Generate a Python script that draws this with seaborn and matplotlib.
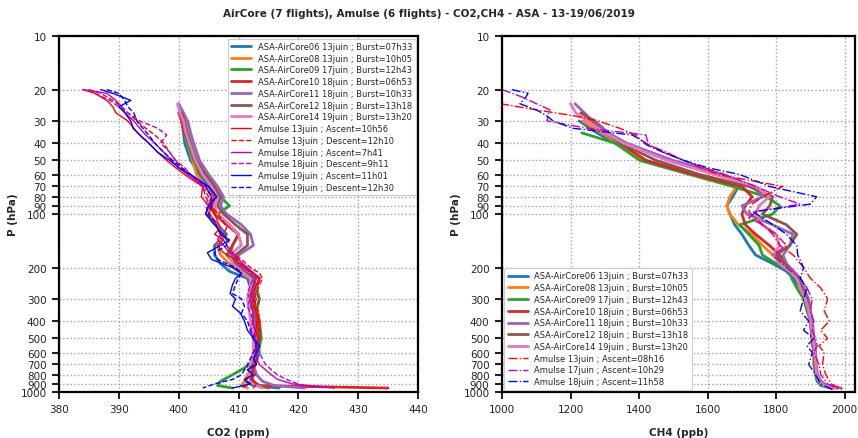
import numpy as np
import pandas as pd
import seaborn as sns
import matplotlib.pyplot as plt
from matplotlib.ticker import FixedLocator, NullLocator, FixedFormatter

sns.set_theme(context="paper", style="ticks", color_codes=False)
plt.rcParams['font.family'] = ['DejaVu Sans']

nan = np.nan

# pressure levels (hPa)
p_aircore = [24, 27, 30, 35, 40, 50, 60, 70, 80, 90, 100, 115, 130, 150, 170, 190, 210,
             230, 260, 300, 350, 400, 500, 600, 700, 800, 870, 920, 950]
p_amulse = [20, 21, 23, 25, 27, 30, 33, 36, 40, 45, 50, 55, 60, 65, 70, 80, 90, 100, 110,
            120, 130, 140, 150, 165, 180, 200, 215, 230, 250, 280, 300, 330, 360, 400, 450,
            500, 550, 600, 650, 700, 750, 800, 850, 900, 950]
p_amulse_ch4 = [20, 21, 22, 24, 26, 28, 30, 33, 36, 38, 41, 45, 50, 55, 60, 70, 80, 88, 97,
                105, 115, 130, 150, 170, 200, 230, 260, 300, 350, 400, 450, 500, 550, 600,
                700, 800, 900, 970]

aircore_labels = ["ASA-AirCore06 13juin ; Burst=07h33", "ASA-AirCore08 13juin ; Burst=10h05",
                  "ASA-AirCore09 17juin ; Burst=12h43", "ASA-AirCore10 18juin ; Burst=06h53",
                  "ASA-AirCore11 18juin ; Burst=10h33", "ASA-AirCore12 18juin ; Burst=13h18",
                  "ASA-AirCore14 19juin ; Burst=13h20"]

# CO2 (ppm) AirCore
co2_ac06 = [nan, nan, 400.5, 400.8, 401.0, 402.0, 403.5, 405.0, 406.0, 405.5, 405.0, 406.5, 408.0, 406.0, 406.0,
            407.0, 408.5, 411.5, 412.0, 412.0, 412.5, 412.5, 413.0, 413.5, 412.8, 412.0, 411.0, 412.5, 416.8]
co2_ac08 = [nan, 400.3, 400.6, 401.0, 401.5, 402.3, 403.0, 404.5, 405.5, 405.0, 405.2, 406.3, 407.5, 406.5, 407.0,
            408.5, 410.0, 412.0, 412.3, 412.0, 412.5, 413.0, 413.2, 413.0, 412.5, 411.5, 411.0, 410.5, 411.5]
co2_ac09 = [nan, nan, nan, 401.0, 401.5, 402.5, 403.8, 405.5, 407.0, 408.5, 406.5, 408.5, 410.0, 409.0, 408.0,
            409.5, 411.0, 412.5, 413.0, 413.5, 413.0, 413.5, 413.8, 413.3, 412.0, 409.0, 407.0, 406.5, 409.0]
co2_ac10 = [nan, 400.0, 400.5, 401.0, 401.8, 402.8, 404.0, 405.5, 406.0, 405.5, 406.0, 408.0, 410.0, 409.0, 408.5,
            410.0, 412.0, 413.5, 413.0, 412.5, 413.0, 413.5, 413.5, 413.0, 412.5, 412.0, 412.5, 413.0, 435.0]
co2_ac11 = [400.0, 400.8, 401.5, 402.0, 402.5, 403.5, 405.0, 406.5, 407.5, 407.0, 408.0, 410.5, 412.0, 412.5, 410.0,
            409.5, 411.0, 412.5, 413.0, 412.0, 412.5, 412.8, 413.0, 413.2, 412.5, 413.0, 414.0, 416.0, 421.0]
co2_ac12 = [nan, 400.5, 401.0, 401.5, 402.0, 403.0, 404.5, 406.0, 407.0, 406.5, 407.5, 409.5, 411.5, 411.5, 409.5,
            409.5, 411.0, 412.8, 412.5, 412.0, 412.5, 413.0, 413.3, 413.0, 412.3, 412.0, 412.5, 413.5, 415.0]
co2_ac14 = [399.8, 400.2, 400.8, 401.2, 401.8, 402.8, 404.0, 405.5, 406.5, 406.0, 406.5, 408.5, 410.0, 410.5, 408.5,
            409.0, 410.5, 412.0, 412.0, 411.5, 411.8, 412.0, 412.5, 412.5, 412.0, 411.8, 412.0, 413.0, 414.0]

# CO2 (ppm) Amulse
co2_m13a = [384.0, 386.0, 388.0, 389.0, 389.5, 391.5, 392.5, 393.5, 395.0, 396.5, 398.0, 399.5, 401.0, 402.5, 404.0,
            403.8, 405.0, 406.0, 406.5, 407.0, 406.0, 407.5, 406.5, 407.5, 409.5, 411.0, 412.5, 413.5, 413.0, 412.5,
            413.0, 412.5, 413.0, 413.3, 412.8, 413.5, 412.8, 413.0, 412.5, 413.0, 412.3, 412.8, 412.0, 413.0, 412.5]
co2_m13d = [385.0, 387.0, 389.0, 390.5, 391.5, 393.0, 394.5, 396.0, 397.5, 398.5, 399.5, 401.0, 402.0, 403.0, 404.0,
            404.5, 405.5, 406.5, 407.5, 408.0, 407.5, 408.5, 408.0, 409.0, 410.5, 412.0, 413.5, 414.0, 413.5, 413.0,
            413.5, 413.0, 413.5, 413.0, 413.5, 412.5, 413.5, 412.8, 413.2, 412.5, 411.5, 412.5, 411.0, 412.0, 410.5]
co2_m18a = [384.0, 388.0, 389.5, 390.5, 391.0, 392.5, 393.5, 394.5, 396.0, 397.5, 398.8, 400.0, 401.5, 403.0, 404.5,
            405.5, 405.0, 404.5, 406.0, 406.5, 407.0, 406.5, 407.5, 408.5, 410.0, 411.5, 412.5, 413.0, 412.5, 412.0,
            412.5, 412.0, 412.5, 412.3, 412.8, 412.5, 413.0, 413.2, 413.0, 413.5, 414.5, 415.5, 416.5, 419.0, 426.0]
co2_m18d = [nan, 386.0, 388.5, 390.0, 391.5, 393.5, 396.5, 398.0, 397.0, 398.5, 399.5, 400.5, 401.5, 403.0, 404.0,
            405.0, 404.5, 405.0, 405.5, 406.5, 407.0, 407.5, 408.0, 409.0, 410.0, 411.0, 412.0, 412.5, 412.0, 411.5,
            412.0, 411.5, 412.0, 412.5, 412.0, 412.8, 413.0, 413.5, 414.0, 414.5, 415.5, 416.5, 418.0, 420.0, 421.5]
co2_m19a = [387.0, 389.0, 392.0, 390.0, 391.0, 392.0, 392.4, 393.5, 395.0, 396.5, 398.5, 400.0, 402.0, 403.5, 405.0,
            406.4, 405.0, 404.5, 405.5, 406.5, 407.0, 408.5, 407.0, 404.8, 405.5, 409.0, 410.5, 409.5, 409.0, 408.6,
            409.5, 409.0, 410.3, 411.0, 411.5, 412.5, 413.5, 413.0, 412.5, 413.0, 411.5, 412.5, 411.0, 412.0, 409.0]
co2_m19d = [388.0, 390.0, 391.0, 391.5, 392.5, 393.0, 394.0, 395.0, 396.0, 397.5, 399.0, 400.5, 402.0, 403.5, 404.5,
            405.5, 405.5, 405.0, 406.0, 406.5, 407.5, 408.0, 408.0, 406.0, 406.5, 409.5, 410.5, 410.0, 409.5, 409.0,
            410.5, 411.0, 410.5, 411.5, 412.0, 412.5, 413.0, 412.5, 412.0, 411.5, 411.0, 410.5, 409.0, 406.0, 404.0]

# CH4 (ppb) AirCore
ch4_ac06 = [nan, nan, 1225, 1277, 1330, 1420, 1560, 1690, 1673, 1656, 1665, 1679, 1700, 1720, 1740, 1790, 1830,
            1850, 1870, 1885, 1895, 1900, 1905, 1910, 1912, 1915, 1920, 1930, 1960]
ch4_ac08 = [nan, nan, 1235, 1290, 1340, 1411, 1555, 1685, 1665, 1656, 1665, 1690, 1729, 1760, 1790, 1820, 1850,
            1870, 1880, 1890, 1900, 1905, 1910, 1915, 1918, 1920, 1925, 1940, 1975]
ch4_ac09 = [nan, nan, nan, 1233, 1330, 1402, 1548, 1673, 1772, 1811, 1790, 1694, 1720, 1750, 1760, 1800, 1840,
            1845, 1860, 1880, 1890, 1900, 1905, 1910, 1910, 1915, 1920, 1935, 1965]
ch4_ac10 = [nan, 1230, 1270, 1310, 1345, 1420, 1560, 1700, 1730, 1710, 1700, 1710, 1740, 1780, 1810, 1830, 1850,
            1870, 1880, 1890, 1895, 1900, 1905, 1910, 1915, 1920, 1930, 1945, 1980]
ch4_ac11 = [1213, 1240, 1265, 1310, 1364, 1499, 1645, 1732, 1761, 1700, 1714, 1790, 1849, 1840, 1820, 1830, 1850,
            1870, 1880, 1895, 1900, 1905, 1910, 1915, 1915, 1920, 1930, 1950, 1990]
ch4_ac12 = [nan, 1235, 1260, 1300, 1345, 1450, 1577, 1720, 1790, 1781, 1760, 1830, 1860, 1840, 1800, 1825, 1845,
            1860, 1875, 1890, 1895, 1900, 1905, 1910, 1912, 1918, 1925, 1940, 1970]
ch4_ac14 = [1200, 1215, 1250, 1300, 1355, 1481, 1620, 1740, 1780, 1750, 1740, 1760, 1800, 1810, 1790, 1810, 1840,
            1860, 1870, 1885, 1895, 1900, 1908, 1912, 1915, 1918, 1925, 1940, 1975]

# CH4 (ppb) Amulse
ch4_m13 = [nan, nan, nan, 995, 1100, 1207, 1280, 1344, 1390, 1402, 1430, 1480, 1530, 1580, 1630, 1819, 1760, 1730,
           1720, 1740, 1760, 1790, 1810, 1850, 1880, 1900, 1930, 1950, 1940, 1955, 1930, 1950, 1925, 1940, 1935,
           1945, 1960, 1995]
ch4_m17 = [1000, 1030, 1058, 1100, 1140, 1135, 1131, 1250, 1420, 1423, 1430, 1470, 1530, 1590, 1650, 1740, 1810,
           1869, 1743, 1720, 1760, 1800, 1830, 1790, 1830, 1870, 1890, 1905, 1900, 1910, 1905, 1915, 1920, 1910,
           1925, 1930, 1950, 1985]
ch4_m18 = [1029, 1076, 1070, 1052, 1100, 1130, 1149, 1207, 1380, 1402, 1423, 1470, 1530, 1600, 1694, 1780, 1918,
           1900, 1732, 1760, 1790, 1830, 1860, 1863, 1880, 1870, 1890, 1880, 1870, 1895, 1880, 1910, 1890, 1905,
           1895, 1915, 1930, 1965]

co2_aircore = [co2_ac06, co2_ac08, co2_ac09, co2_ac10, co2_ac11, co2_ac12, co2_ac14]
ch4_aircore = [ch4_ac06, ch4_ac08, ch4_ac09, ch4_ac10, ch4_ac11, ch4_ac12, ch4_ac14]
ac_colors = sns.color_palette("tab10", 7)

RED, MAG, BLUE = "#ff0000", "#bf00bf", "#0000ff"
co2_amulse = [
    (co2_m13a, RED, "-", "Amulse 13juin ; Ascent=10h56"),
    (co2_m13d, RED, "--", "Amulse 13juin ; Descent=12h10"),
    (co2_m18a, MAG, "-", "Amulse 18juin ; Ascent=7h41"),
    (co2_m18d, MAG, "--", "Amulse 18juin ; Descent=9h11"),
    (co2_m19a, BLUE, "-", "Amulse 19juin ; Ascent=11h01"),
    (co2_m19d, BLUE, "--", "Amulse 19juin ; Descent=12h30"),
]
ch4_amulse = [
    (ch4_m13, RED, "-.", "Amulse 13juin ; Ascent=08h16"),
    (ch4_m17, MAG, "-.", "Amulse 17juin ; Ascent=10h29"),
    (ch4_m18, BLUE, "-.", "Amulse 18juin ; Ascent=11h58"),
]


def profile(ax, vals, pres, **kw):
    d = pd.DataFrame({"v": vals, "p": pres}).dropna()
    sns.lineplot(data=d, x="v", y="p", sort=False, estimator=None, ax=ax, **kw)


fig = plt.figure(figsize=(8.58, 4.39), dpi=100)
H = 439.0
W = 858.0
ax1 = fig.add_axes([59 / W, 1 - 393 / H, (418 - 59) / W, (393 - 37) / H])
ax2 = fig.add_axes([502 / W, 1 - 393 / H, (855 - 502) / W, (393 - 37) / H])

for vals, c, lab in zip(co2_aircore, ac_colors, aircore_labels):
    profile(ax1, vals, p_aircore, color=c, linewidth=2, label=lab)
for vals, c, ls, lab in co2_amulse:
    profile(ax1, vals, p_amulse, color=c, linewidth=1, linestyle=ls, label=lab)

for vals, c, lab in zip(ch4_aircore, ac_colors, aircore_labels):
    profile(ax2, vals, p_aircore, color=c, linewidth=2, label=lab)
for vals, c, ls, lab in ch4_amulse:
    profile(ax2, vals, p_amulse_ch4, color=c, linewidth=1, linestyle=ls, label=lab)

yt = [10, 20, 30, 40, 50, 60, 70, 80, 90, 100, 200, 300, 400, 500, 600, 700, 800, 900, 1000]
for ax in (ax1, ax2):
    ax.set_yscale("log")
    ax.set_ylim(1000, 10)
    ax.yaxis.set_major_locator(FixedLocator(yt))
    ax.yaxis.set_major_formatter(FixedFormatter([str(t) for t in yt]))
    ax.yaxis.set_minor_locator(NullLocator())
    ax.grid(True, linestyle=":", color="#a0a0a0", linewidth=1)
    for s in ax.spines.values():
        s.set_linewidth(1.6)
        s.set_color("black")
    ax.tick_params(direction="out", length=5, width=1.5, labelsize=7.5, colors="#222222", pad=4)
    ax.set_ylabel("P (hPa)", fontsize=7.5, fontweight="bold", labelpad=2)

ax1.set_xlim(380, 440)
ax1.set_xticks([380, 390, 400, 410, 420, 430, 440])
ax1.set_xlabel("CO2 (ppm)", fontsize=7.5, fontweight="bold", labelpad=9)
ax2.set_xlim(1000, 2030)
ax2.set_xticks([1000, 1200, 1400, 1600, 1800, 2000])
ax2.set_xlabel("CH4 (ppb)", fontsize=7.5, fontweight="bold", labelpad=9)

leg_kw = dict(fontsize=6, labelspacing=0.33, handlelength=2.4, handletextpad=0.8,
              borderaxespad=0.3, framealpha=1, edgecolor="#cccccc", fancybox=True)
ax1.legend(loc="upper right", **leg_kw)
ax2.legend(loc="lower left", **leg_kw)

fig.text(0.5, 0.968, "AirCore (7 flights), Amulse (6 flights) - CO2,CH4 - ASA - 13-19/06/2019",
         ha="center", va="center", fontsize=7.5, fontweight="bold")

fig.savefig("out.png", dpi=100)
